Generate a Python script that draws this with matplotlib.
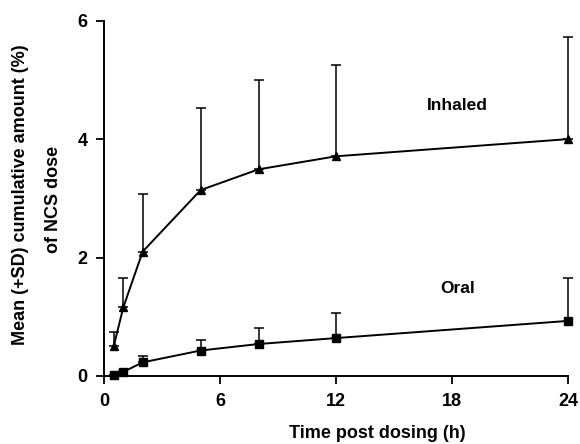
import matplotlib
matplotlib.use("Agg")
import matplotlib.pyplot as plt
import numpy as np

# time points (h)
hours = [0.5, 1, 2, 5, 8, 12, 24]

# inhaled: mean and mean+SD
inhaled_mean = [0.50, 1.16, 2.10, 3.14, 3.49, 3.71, 4.00]
inhaled_top = [0.74, 1.65, 3.07, 4.52, 4.99, 5.26, 5.72]

# oral: mean and mean+SD
oral_mean = [0.02, 0.07, 0.23, 0.43, 0.54, 0.64, 0.93]
oral_top = [0.02, 0.08, 0.33, 0.61, 0.81, 1.06, 1.66]

xticks = [0, 6, 12, 18, 24]
yticks = [0, 2, 4, 6]

plt.rcParams['font.family'] = ['Liberation Sans', 'DejaVu Sans']

fig = plt.figure(figsize=(5.8, 4.44), dpi=100)
ax = fig.add_axes([0.1793, 0.1532, 0.8, 0.8002])


def draw(mean, top, marker, ms):
    mean = np.array(mean)
    up = np.array(top) - mean
    ax.errorbar(hours, mean, yerr=[np.zeros_like(up), up], fmt='none',
                ecolor='black', elinewidth=1.1, capsize=3.5, capthick=1.1,
                clip_on=False, zorder=2)
    ax.plot(hours, mean, color='black', lw=1.4, marker=marker, ms=ms,
            clip_on=False, zorder=3)


draw(inhaled_mean, inhaled_top, '^', 6)
draw(oral_mean, oral_top, 's', 5.5)

ax.set_xlim(0, 24)
ax.set_ylim(0, 6)
ax.set_xticks(xticks)
ax.set_yticks(yticks)
for s in ['top', 'right']:
    ax.spines[s].set_visible(False)
for s in ['left', 'bottom']:
    ax.spines[s].set_linewidth(1.4)
ax.tick_params(direction='out', length=6, width=1.3, labelsize=13, pad=6)
for lab in ax.get_xticklabels() + ax.get_yticklabels():
    lab.set_fontweight('bold')

ax.text(18.3, 4.57, 'Inhaled', fontsize=12.5, fontweight='bold', ha='center', va='center')
ax.text(18.3, 1.47, 'Oral', fontsize=12.5, fontweight='bold', ha='center', va='center')

fig.text(0.65, 0.004, 'Time post dosing (h)', fontsize=13, fontweight='bold',
         ha='center', va='bottom')
fig.text(0.035, 0.561, 'Mean (+SD) cumulative amount (%)', fontsize=13,
         fontweight='bold', rotation=90, ha='center', va='center')
fig.text(0.092, 0.55, 'of NCS dose', fontsize=13, fontweight='bold',
         rotation=90, ha='center', va='center')

fig.savefig('out.png', dpi=100)
